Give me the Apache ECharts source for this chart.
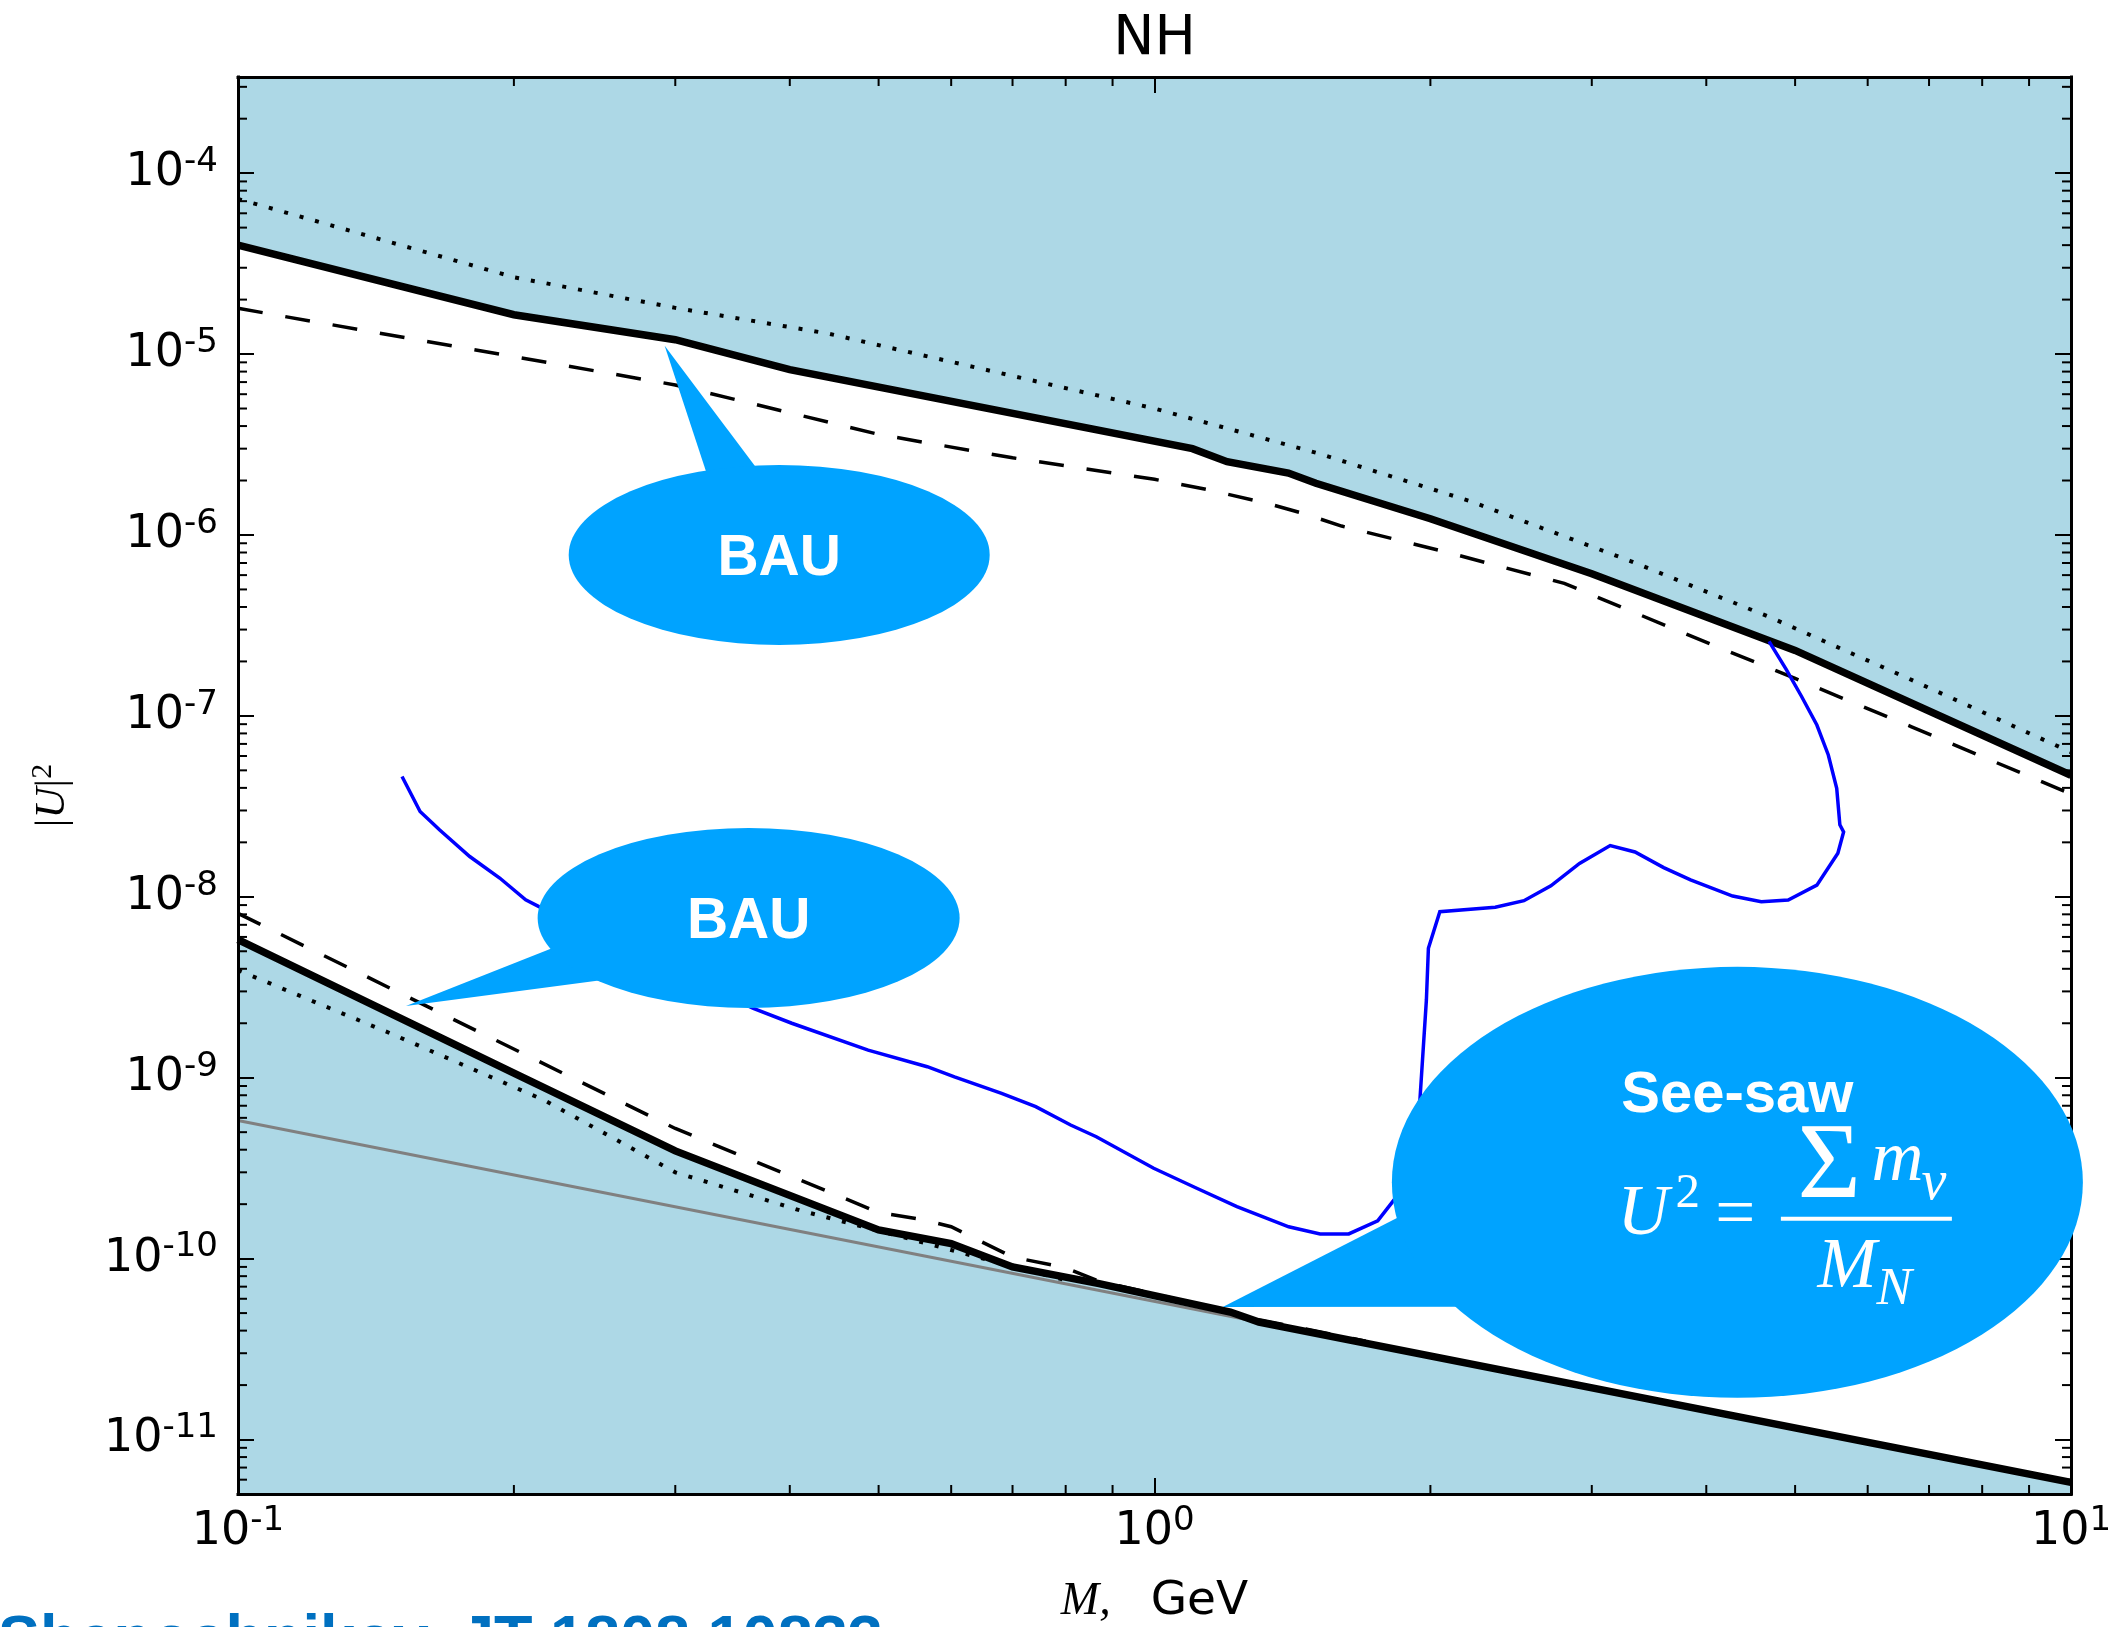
<!DOCTYPE html>
<html>
<head>
<meta charset="utf-8">
<script src="https://cdn.jsdelivr.net/npm/echarts@6/dist/echarts.min.js"></script>
<style>
  html, body { margin: 0; padding: 0; background: #fff; }
  #chart { width: 2124px; height: 1627px; }
</style>
</head>
<body>
<div id="chart"></div>
<script>
// ---- axis ranges ----
const M_MIN = 0.1, M_MAX = 10;          // heavy neutral lepton mass, GeV
const U2_MIN = 5e-12, U2_MAX = 3.4e-4;  // mixing |U|^2

// ---- upper bound (BAU), NH ----
const upperSolidM  = [0.1, 0.2, 0.3, 0.4, 1.1, 1.2, 1.4, 1.5, 2, 3, 5, 10];
const upperSolidU2 = [4.0e-5, 1.65e-5, 1.2e-5, 8.2e-6, 3.0e-6, 2.54e-6, 2.2e-6, 1.93e-6, 1.23e-6, 6.1e-7, 2.3e-7, 4.7e-8];
const upperDottedM  = [0.1, 0.2, 0.3, 0.44, 1.0, 1.5, 2.2, 3.3, 4.7, 6.7, 10];
const upperDottedU2 = [7.2e-5, 2.66e-5, 1.8e-5, 1.3e-5, 5.0e-6, 2.85e-6, 1.55e-6, 7.2e-7, 3.5e-7, 1.58e-7, 6.3e-8];
const upperDashedM  = [0.1, 0.3, 0.5, 0.7, 1.0, 1.15, 1.33, 1.45, 1.6, 2.07, 2.8, 3.7, 5, 6.7, 10];
const upperDashedU2 = [1.79e-5, 6.75e-6, 3.6e-6, 2.67e-6, 2.03e-6, 1.77e-6, 1.49e-6, 1.32e-6, 1.12e-6, 8.1e-7, 5.4e-7, 3.0e-7, 1.61e-7, 8.7e-8, 3.7e-8];

// ---- lower bound (see-saw / BBN side) ----
const lowerSolidM  = [0.1, 0.2, 0.3, 0.5, 0.6, 0.7, 0.87, 1.21, 1.3, 10];
const lowerSolidU2 = [5.8e-9, 1.06e-9, 3.94e-10, 1.44e-10, 1.21e-10, 9.0e-11, 7.28e-11, 5.07e-11, 4.46e-11, 5.8e-12];
const lowerDashedM  = [0.1, 0.3, 0.5, 0.56, 0.6, 0.7, 0.8, 0.87, 1.0, 1.3, 1.7];
const lowerDashedU2 = [8.1e-9, 5.24e-10, 1.8e-10, 1.64e-10, 1.5e-10, 1.02e-10, 8.9e-11, 7.5e-11, 6.4e-11, 4.6e-11, 3.5e-11];
const lowerDottedM  = [0.1, 0.147, 0.216, 0.3, 0.41, 0.53, 0.66, 0.8];
const lowerDottedU2 = [3.93e-9, 1.75e-9, 7.5e-10, 3.0e-10, 1.85e-10, 1.32e-10, 9.8e-11, 7.6e-11];

// ---- see-saw line U^2 = sum(m_nu) / M ----
const seesawM  = [0.1, 10];
const seesawU2 = [5.8e-10, 5.8e-12];

// ---- BAU contour (blue) ----
const bauM = [0.151, 0.158, 0.166, 0.179, 0.193, 0.206, 0.213, 0.365, 0.402, 0.487, 0.565, 0.605, 0.681, 0.742,
              0.81, 0.864, 0.998, 1.112, 1.23, 1.401, 1.516, 1.629, 1.752, 1.829, 1.948, 1.98, 1.99, 2.048, 2.354,
              2.53, 2.707, 2.909, 3.142, 3.344, 3.594, 3.845, 4.274, 4.593, 4.914, 5.281, 5.567, 5.648, 5.595,
              5.551, 5.435, 5.281, 5.082, 4.891, 4.683];
const bauU2 = [4.62e-8, 2.96e-8, 2.34e-8, 1.67e-8, 1.27e-8, 9.62e-9, 8.83e-9, 2.42e-9, 2.0e-9, 1.42e-9, 1.15e-9, 1.01e-9, 8.2e-10, 6.92e-10,
               5.48e-10, 4.72e-10, 3.16e-10, 2.45e-10, 1.94e-10, 1.5e-10, 1.37e-10, 1.37e-10, 1.62e-10, 2.14e-10, 7.53e-10, 2.69e-9, 5.2e-9, 8.28e-9, 8.75e-9,
               9.52e-9, 1.15e-8, 1.53e-8, 1.92e-8, 1.77e-8, 1.45e-8, 1.24e-8, 1.01e-8, 9.4e-9, 9.6e-9, 1.16e-8, 1.74e-8, 2.28e-8, 2.5e-8,
               3.98e-8, 6.08e-8, 8.9e-8, 1.28e-7, 1.8e-7, 2.58e-7];

// ---- speech-bubble annotations: centre and pointer tip in data space ----
const calloutText    = ['BAU', 'BAU', 'See-saw'];
const calloutCenterM = [0.3895, 0.3607, 4.325];
const calloutCenterU = [7.76e-7, 7.64e-9, 2.64e-10];
const calloutTipM    = [0.2921, 0.1525, 1.187];
const calloutTipU    = [1.11e-5, 2.49e-9, 5.41e-11];

const creditText = 'Shaposhnikov, JT 1808.10833';

// ---- styling ----
const FILL = '#ADD8E6';
const BUBBLE = '#00A3FF';
const GRID = { left: 238, right: 53, top: 77, bottom: 133 };
const W = 2124, H = 1627;
const MINOR_LEN = 9;

// bubble geometry (pixels, relative to bubble centre)
const bubbleShape = [
  { rx: 210.5, ry: 90, base: [[-72, -80], [-22, -86]], textDy: 4, font: 'bold 57px "Liberation Sans"' },
  { rx: 211, ry: 90, base: [[-196, 30], [-146, 62]], textDy: 4, font: 'bold 57px "Liberation Sans"' },
  { rx: 345.5, ry: 215.5, base: [[-338, 34.5], [-270, 124.5]], textDy: -86, font: 'bold 58px "Liberation Sans"' }
];

const zip = (a, b) => a.map((v, i) => [v, b[i]]);

function lineSeries(m, u, color, width, type) {
  return {
    type: 'line', data: zip(m, u), showSymbol: false, symbol: 'none', silent: true, z: 3,
    lineStyle: { color: color, width: width, type: type, cap: 'butt', join: 'miter' }
  };
}

function areaSeries(points, color) {
  return {
    type: 'custom', z: 1, silent: true, clip: true, data: points,
    renderItem: function (params, api) {
      if (params.dataIndex !== 0) return null;
      return { type: 'polygon', shape: { points: points.map(p => api.coord(p)) }, style: { fill: color } };
    }
  };
}

function minorTickSeries() {
  const xs = [], ys = [];
  for (let e = -1; e < 1; e++) for (let k = 2; k <= 9; k++) xs.push(k * Math.pow(10, e));
  for (let e = -12; e <= -4; e++) for (let k = 2; k <= 9; k++) {
    const v = k * Math.pow(10, e);
    if (v > U2_MIN * 1.001 && v < U2_MAX) ys.push(v);
  }
  const seg = (x1, y1, x2, y2) => ({ type: 'line', shape: { x1, y1, x2, y2 }, style: { stroke: '#000', lineWidth: 2 } });
  return {
    type: 'custom', z: 6, silent: true, clip: false, data: [[1, 1e-8]],
    renderItem: function (params, api) {
      const children = [];
      xs.forEach(v => {
        const b = api.coord([v, U2_MIN]), t = api.coord([v, U2_MAX]);
        children.push(seg(b[0], b[1], b[0], b[1] - MINOR_LEN), seg(t[0], t[1], t[0], t[1] + MINOR_LEN));
      });
      ys.forEach(v => {
        const l = api.coord([M_MIN, v]), r = api.coord([M_MAX, v]);
        children.push(seg(l[0], l[1], l[0] + MINOR_LEN, l[1]), seg(r[0], r[1], r[0] - MINOR_LEN, r[1]));
      });
      return { type: 'group', children: children };
    }
  };
}

function txt(x, y, text, font, align, fill) {
  return {
    type: 'text', x: x, y: y,
    style: { text: text, font: font, fill: fill || '#fff', align: align || 'center', verticalAlign: 'middle',
             textAlign: align || 'center', textVerticalAlign: 'middle' }
  };
}

// source reference along the bottom edge (clipped by the canvas)
function creditSeries() {
  return {
    type: 'custom', z: 30, silent: true, clip: false, data: [[1, 1e-8]],
    renderItem: function () {
      return txt(-2, H + 15, creditText, 'bold 63px "Liberation Sans"', 'left', '#0070C0');
    }
  };
}

function calloutSeries() {
  const data = calloutText.map((_, i) => [calloutCenterM[i], calloutCenterU[i], calloutTipM[i], calloutTipU[i]]);
  return {
    type: 'custom', z: 20, silent: true, clip: false, data: data,
    renderItem: function (params, api) {
      const i = params.dataIndex;
      const s = bubbleShape[i];
      const c = api.coord([api.value(0), api.value(1)]);
      const t = api.coord([api.value(2), api.value(3)]);
      const children = [
        { type: 'polygon', shape: { points: [t, [c[0] + s.base[0][0], c[1] + s.base[0][1]], [c[0] + s.base[1][0], c[1] + s.base[1][1]]] },
          style: { fill: BUBBLE } },
        { type: 'circle', x: c[0], y: c[1], scaleX: s.rx / s.ry, scaleY: 1, shape: { cx: 0, cy: 0, r: s.ry }, style: { fill: BUBBLE } },
        txt(c[0], c[1] + s.textDy, calloutText[i], s.font)
      ];
      if (i === 2) {
        // U^2 = (sum m_nu) / M_N
        const X = c[0], Y = c[1];
        children.push(
          txt(X - 120, Y + 33, 'U', 'italic 71px "Liberation Serif"', 'left'),
          txt(X - 62, Y + 12, '2', '49px "Liberation Serif"', 'left'),
          txt(X - 2, Y + 35, '=', '71px "Liberation Serif"', 'center'),
          { type: 'rect', shape: { x: X + 43.5, y: Y + 34.5, width: 171, height: 4 }, style: { fill: '#fff' } },
          txt(X + 60, Y - 14, 'Σ', '109px "Liberation Serif"', 'left'),
          txt(X + 134, Y - 21, 'm', 'italic 72px "Liberation Serif"', 'left'),
          txt(X + 184, Y + 2, 'ν', 'italic 56px "Liberation Serif"', 'left'),
          txt(X + 80, Y + 86, 'M', 'italic 71px "Liberation Serif"', 'left'),
          txt(X + 139, Y + 108, 'N', 'italic 53px "Liberation Serif"', 'left')
        );
      }
      return { type: 'group', children: children };
    }
  };
}

function powerLabel(v) {
  const e = Math.log10(v);
  const r = Math.round(e);
  if (Math.abs(e - r) > 1e-6) return '';
  return '{b|10}{s|' + r + '}';
}

const tickRich = {
  b: { fontFamily: 'DejaVu Sans', fontSize: 46, lineHeight: 56, color: '#000' },
  s: { fontFamily: 'DejaVu Sans', fontSize: 34, lineHeight: 30, verticalAlign: 'top', color: '#000' }
};
const AXIS_LINE = { show: true, onZero: false, lineStyle: { color: '#000', width: 3, cap: 'square' } };
const MAJOR_TICK = { show: true, inside: true, length: 16, lineStyle: { color: '#000', width: 2 } };

function logAxis(extra, lo, hi) {
  return Object.assign({
    type: 'log', logBase: 10, min: lo, max: hi, z: 5,
    axisLine: AXIS_LINE, axisTick: MAJOR_TICK, splitLine: { show: false }, minorTick: { show: false }
  }, extra);
}

const upperPoly = zip(upperSolidM, upperSolidU2).concat([[M_MAX, U2_MAX], [M_MIN, U2_MAX]]);
const lowerPoly = zip(lowerSolidM, lowerSolidU2).concat([[M_MAX, U2_MIN], [M_MIN, U2_MIN]]);

const chart = echarts.init(document.getElementById('chart'), null, { renderer: 'canvas', width: W, height: H });

chart.setOption({
  backgroundColor: '#fff',
  animation: false,
  grid: Object.assign({ containLabel: false, outerBoundsMode: 'none' }, GRID),
  xAxis: [
    logAxis({
      position: 'bottom',
      axisLabel: { formatter: powerLabel, rich: tickRich, margin: 10, showMinLabel: true, showMaxLabel: true },
      name: '{m|M,}{g|GeV}', nameLocation: 'middle', nameGap: 80,
      nameTextStyle: {
        fontFamily: 'DejaVu Sans', fontSize: 46, color: '#000',
        rich: {
          m: { fontFamily: 'Liberation Serif', fontStyle: 'italic', fontSize: 46, lineHeight: 56, color: '#000' },
          g: { fontFamily: 'DejaVu Sans', fontSize: 47, lineHeight: 56, color: '#000', padding: [0, 0, 0, 40] }
        }
      }
    }, M_MIN, M_MAX),
    logAxis({ position: 'top', axisLabel: { show: false } }, M_MIN, M_MAX)
  ],
  yAxis: [
    logAxis({
      position: 'left',
      axisLabel: { formatter: powerLabel, rich: tickRich, margin: 20, showMinLabel: false, showMaxLabel: false },
      name: '{v||}{u|U}{v||}{s|2}', nameLocation: 'middle', nameRotate: 90, nameGap: 160,
      nameTextStyle: {
        color: '#000',
        rich: {
          v: { fontFamily: 'Liberation Serif', fontSize: 43, lineHeight: 50, color: '#000' },
          u: { fontFamily: 'Liberation Serif', fontStyle: 'italic', fontSize: 43, lineHeight: 50, color: '#000' },
          s: { fontFamily: 'Liberation Serif', fontSize: 30, lineHeight: 28, verticalAlign: 'top', color: '#000',
               padding: [0, 20, 0, 0] }
        }
      }
    }, U2_MIN, U2_MAX),
    logAxis({ position: 'right', axisLabel: { show: false } }, U2_MIN, U2_MAX)
  ],
  graphic: [
    { type: 'text', x: GRID.left + (W - GRID.left - GRID.right) / 2, y: 40,
      style: { text: 'NH', font: '55px "DejaVu Sans"', fill: '#000', align: 'center', verticalAlign: 'middle',
               textAlign: 'center', textVerticalAlign: 'middle' } }
  ],
  series: [
    areaSeries(upperPoly, FILL),
    areaSeries(lowerPoly, FILL),
    lineSeries(seesawM, seesawU2, '#808080', 3, 'solid'),
    lineSeries(upperDottedM, upperDottedU2, '#000', 4, [4, 12]),
    lineSeries(lowerDottedM, lowerDottedU2, '#000', 4, [4, 12]),
    lineSeries(upperDashedM, upperDashedU2, '#000', 3.5, [25, 23]),
    lineSeries(lowerDashedM, lowerDashedU2, '#000', 3.5, [25, 23]),
    lineSeries(upperSolidM, upperSolidU2, '#000', 7.5, 'solid'),
    lineSeries(lowerSolidM, lowerSolidU2, '#000', 7.5, 'solid'),
    lineSeries(bauM, bauU2, '#0000FF', 3.5, 'solid'),
    minorTickSeries(),
    calloutSeries(),
    creditSeries()
  ]
});
</script>
</body>
</html>
